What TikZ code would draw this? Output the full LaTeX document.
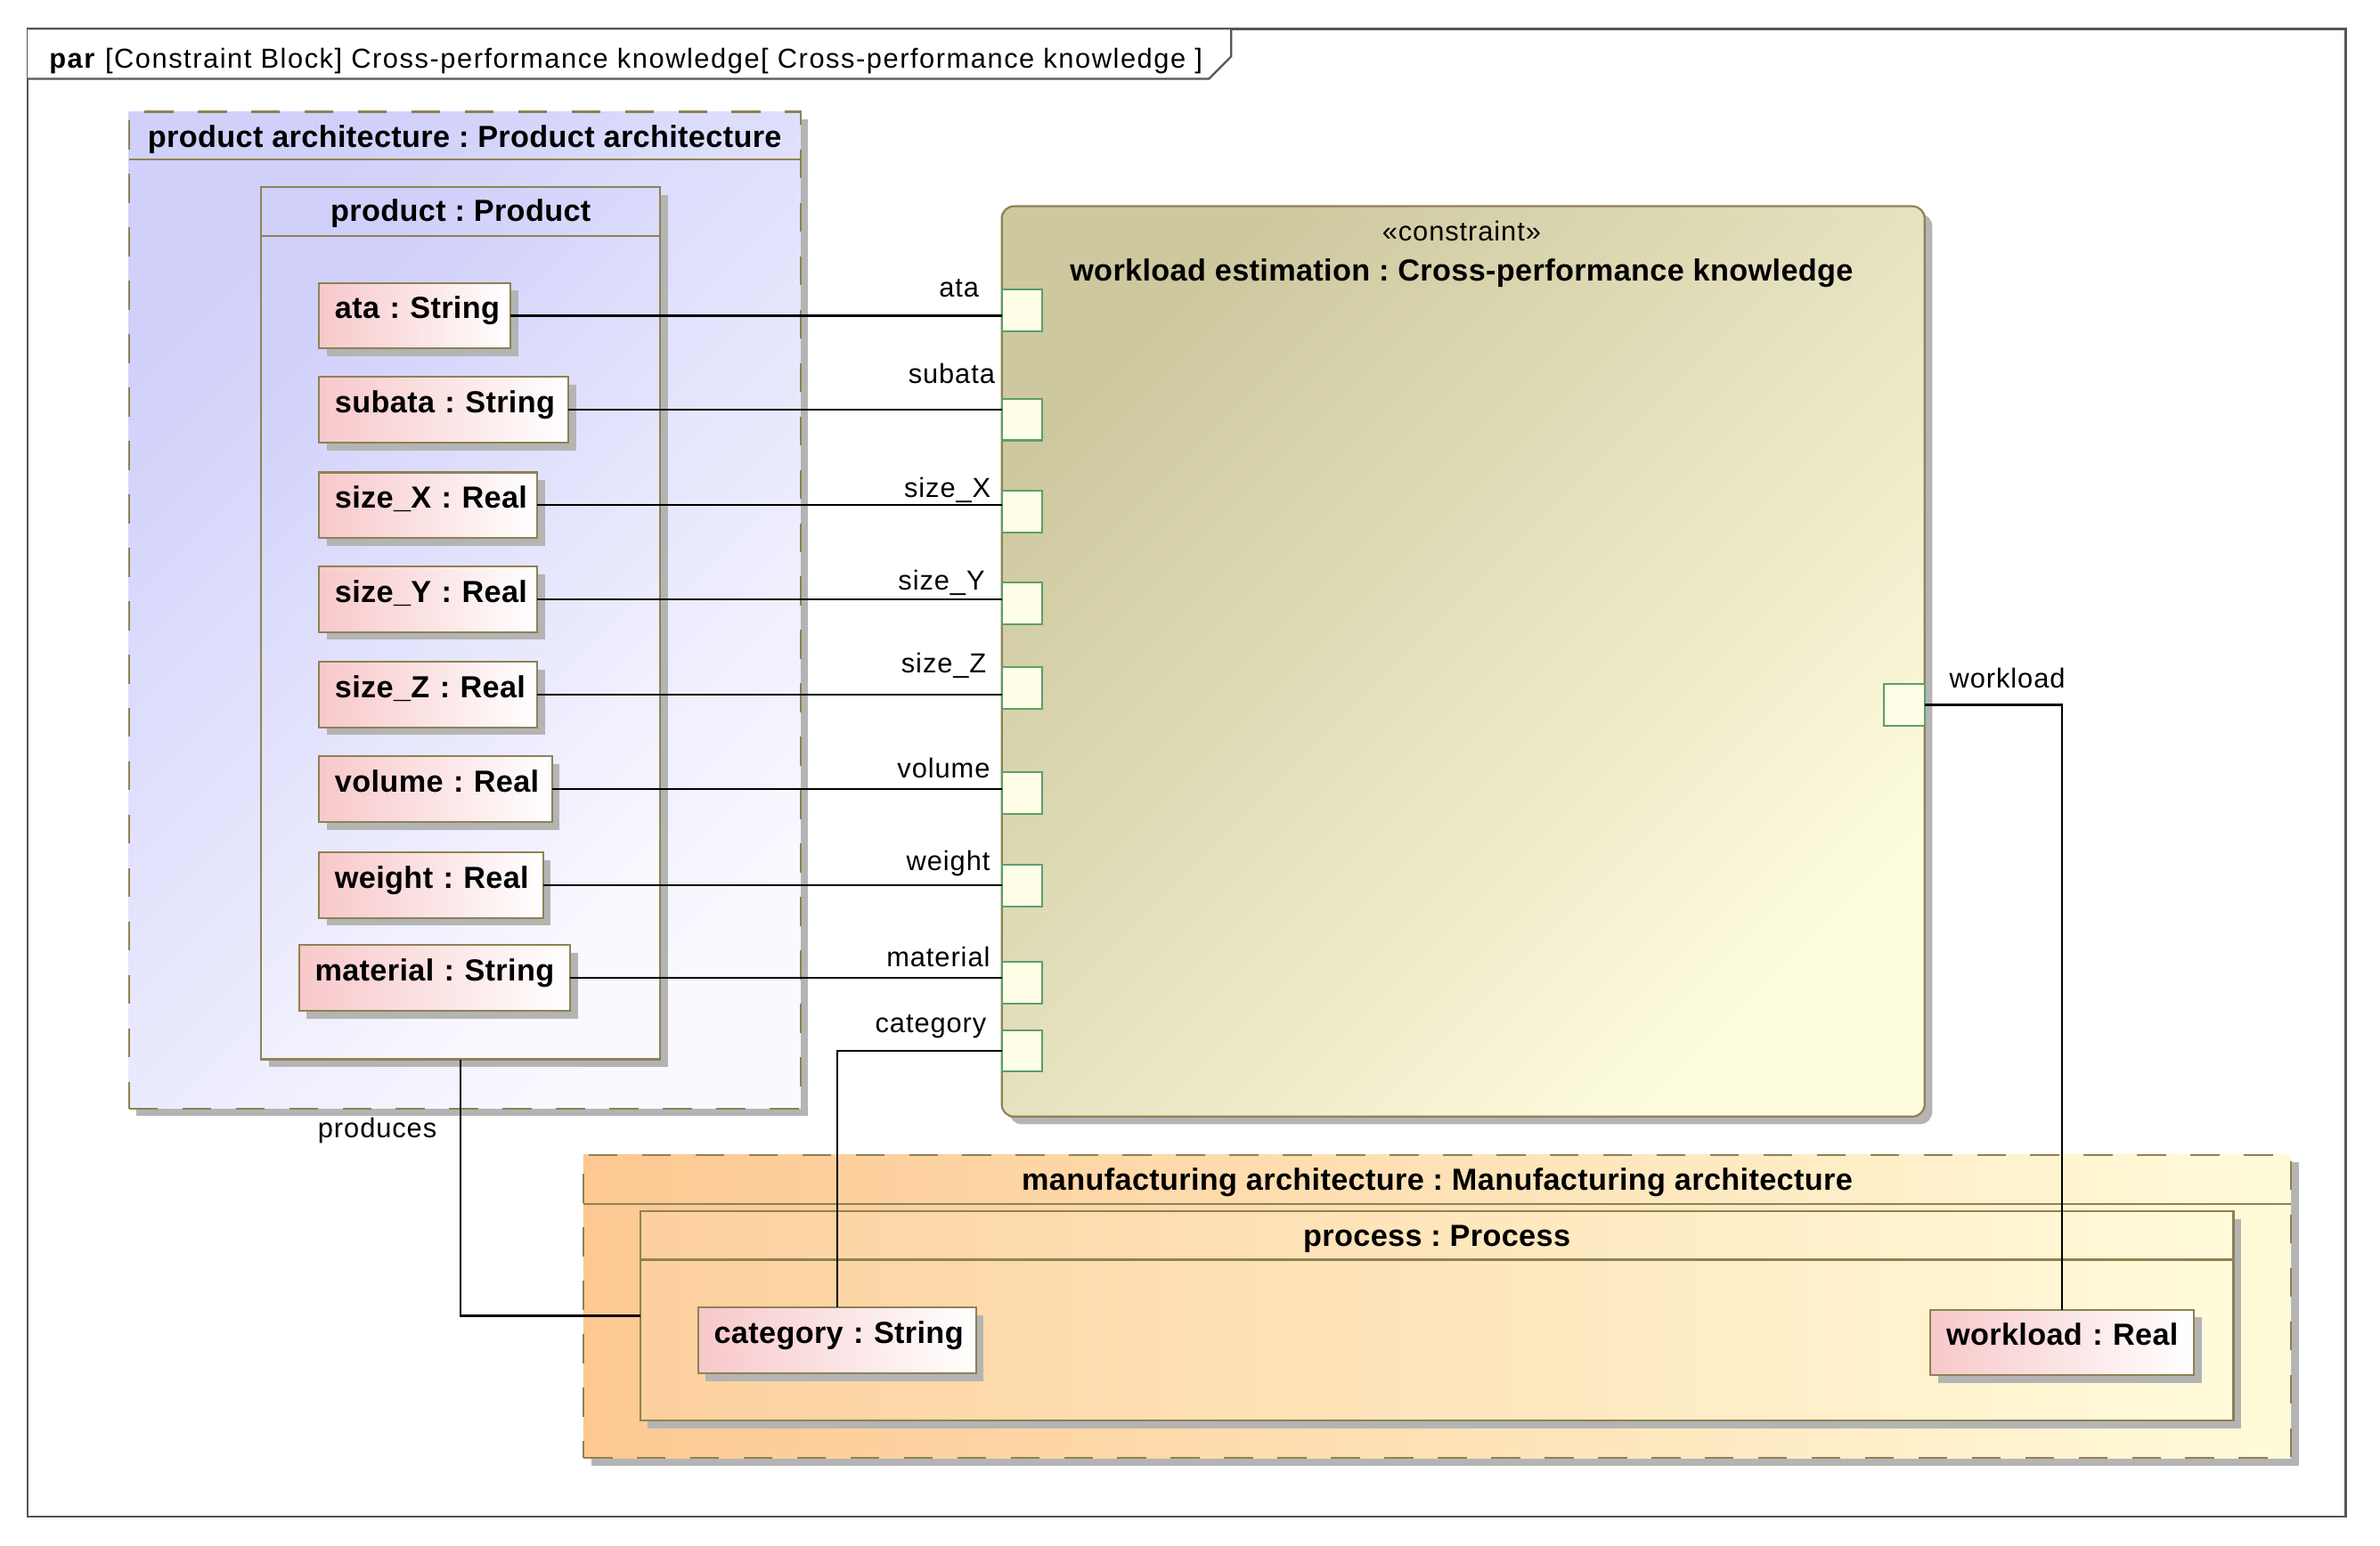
\documentclass[tikz,border=0pt]{standalone}
\usepackage{fontspec}
\setmainfont{Liberation Sans}[LetterSpace=3]
\newfontfamily\boldfam{Liberation Sans}[LetterSpace=1]
\usetikzlibrary{shadows}
\definecolor{bord}{HTML}{8E8253}
\definecolor{lav1}{HTML}{D0D0FB}
\definecolor{lav2}{HTML}{F9F9FF}
\definecolor{pinkL}{HTML}{F8C8CA}
\definecolor{khaki1}{HTML}{CDC89E}
\definecolor{khaki2}{HTML}{FEFCDF}
\definecolor{portfill}{HTML}{FFFEE6}
\definecolor{portdraw}{HTML}{5E9E6A}
\definecolor{orange1}{HTML}{FDC892}
\definecolor{orange1b}{HTML}{FDD09E}
\definecolor{orange2}{HTML}{FFFBDA}
\definecolor{shadowgray}{HTML}{B4B4B4}
\definecolor{framegray}{HTML}{555555}
\newcommand\boldlbl{\boldfam\bfseries\fontsize{20pt}{24pt}\selectfont}
\newcommand\reglbl{\fontsize{18pt}{21pt}\selectfont}
\newcommand\propbox[5]{\node[prop, text width=#4pt] (#1) at (#2,#3) {\mbox{#5}};}
\begin{document}
\frenchspacing
\begin{tikzpicture}[x=1pt,y=-1pt,
  every node/.style={inner sep=0pt, outer sep=0pt},
  shad/.style={drop shadow={shadow xshift=5pt, shadow yshift=-5pt, fill=shadowgray, opacity=1}},
  container/.style={draw=bord, line width=1.3pt, dash pattern=on 19pt off 16pt, anchor=north west, shad},
  part/.style={draw=bord, line width=1.3pt, anchor=north west, shad},
  hdrline/.style={draw=bord, line width=1.3pt},
  prop/.style={draw=bord, line width=1.2pt, left color=pinkL, right color=white, anchor=north west,
    minimum height=43pt, inner xsep=10.5pt, inner ysep=0pt, text height=13.5pt, text depth=9.5pt,
    align=left, font=\boldlbl, shad},
  port/.style={draw=portdraw, fill=portfill, line width=1.2pt, minimum width=26.4pt, minimum height=27.3pt, anchor=north west},
  conn/.style={draw=black, line width=1.3pt},
  plabel/.style={font=\reglbl, anchor=base east},
  ttl/.style={font=\boldlbl, anchor=base}]
\useasboundingbox (0,0) rectangle (1560,1013);

% frame
\node[draw=framegray, line width=1.5pt, minimum width=1519.3pt, minimum height=975.3pt, anchor=north west] (frame) at (18.2,18.9) {};
\draw[draw=framegray, line width=1.3pt, fill=white] (18.2,18.9) -- (807,18.9) -- (807,37) -- (792.5,51.6) -- (18.2,51.6);
\node[anchor=base west, font=\reglbl\addfontfeatures{LetterSpace=5}] (hdr) at (32.3,44.4) {\textbf{par} [Constraint Block] Cross-performance knowledge[ Cross-performance knowledge ]};

% product architecture
\node[container, top color=lav1, bottom color=lav2, shading angle=45, minimum width=440.3pt, minimum height=653.5pt] (parch) at (84.5,73.2) {};
\draw[hdrline] ([yshift=-31.4pt]parch.north west) -- ([yshift=-31.4pt]parch.north east);
\node[ttl] (tparch) at (304.6,96.8) {product architecture : Product architecture};

\node[part, top color=lav1, bottom color=lav2, shading angle=45, minimum width=261.5pt, minimum height=571.7pt] (product) at (171.2,122.8) {};
\draw[hdrline] ([yshift=-31.9pt]product.north west) -- ([yshift=-31.9pt]product.north east);
\node[ttl] (tproduct) at (302,145) {product : Product};

% manufacturing architecture
\node[container, left color=orange1, right color=orange2, minimum width=1119.3pt, minimum height=198.8pt] (march) at (382.4,757.1) {};
\draw[hdrline] ([yshift=-32.1pt]march.north west) -- ([yshift=-32.1pt]march.north east);
\node[ttl] (tmarch) at (942,780.5) {manufacturing architecture : Manufacturing architecture};

\node[part, left color=orange1b, right color=orange2, minimum width=1044.4pt, minimum height=137.2pt] (process) at (419.6,794) {};
\draw[hdrline] ([yshift=-31.8pt]process.north west) -- ([yshift=-31.8pt]process.north east);
\node[ttl] (tprocess) at (941.8,817.3) {process : Process};

% constraint block
\node[draw=bord, line width=1.3pt, rounded corners=8pt, top color=khaki1, bottom color=khaki2, shading angle=45,
  anchor=north west, minimum width=604.9pt, minimum height=596.8pt, shad] (cons) at (656.6,135.2) {};
\node[font=\reglbl, anchor=base] (stereo) at (958,158.2) {«constraint»};
\node[ttl] (ctitle) at (958,183.9) {workload estimation : Cross-performance knowledge};

% value properties
\propbox{ata}{209}{185.4}{104.6}{ata : String}
\propbox{subata}{209}{247.2}{142.5}{subata : String}
\propbox{sizex}{209}{309.7}{122.3}{size\_X : Real}
\propbox{sizey}{209}{371.3}{122.3}{size\_Y : Real}
\propbox{sizez}{209}{433.8}{122.3}{size\_Z : Real}
\propbox{volume}{209}{495.9}{131.9}{volume : Real}
\propbox{weight}{209}{558.8}{126}{weight : Real}
\propbox{material}{195.9}{619.7}{156.9}{material : String}
\propbox{category}{457.5}{857.3}{161.3}{category : String}
\propbox{workload}{1265.2}{858.6}{151.8}{workload : Real}

% ports
\node[port] (pata) at (656.6,190) {};
\node[port] (psubata) at (656.6,261.4) {};
\node[port] (psizex) at (656.6,321.7) {};
\node[port] (psizey) at (656.6,382) {};
\node[port] (psizez) at (656.6,437.5) {};
\node[port] (pvolume) at (656.6,506.3) {};
\node[port] (pweight) at (656.6,567) {};
\node[port] (pmaterial) at (656.6,630.6) {};
\node[port] (pcategory) at (656.6,675.3) {};
\node[port] (pworkload) at (1235,448.4) {};

% connectors
\draw[conn] (ata.east) -- (ata.east -| pata.west);
\draw[conn] (subata.east) -- (subata.east -| psubata.west);
\draw[conn] (sizex.east) -- (sizex.east -| psizex.west);
\draw[conn] (sizey.east) -- (sizey.east -| psizey.west);
\draw[conn] (sizez.east) -- (sizez.east -| psizez.west);
\draw[conn] (volume.east) -- (volume.east -| pvolume.west);
\draw[conn] (weight.east) -- (weight.east -| pweight.west);
\draw[conn] (material.east) -- (material.east -| pmaterial.west);
\draw[conn] (pcategory.west) -| (category.north);
\draw[conn] (pworkload.east) -| (workload.north);
\draw[conn] (product.south) |- (process.west);

% port labels
\node[plabel] (lata) at (641.6,194.6) {ata};
\node[plabel] (lsubata) at (652.1,251.3) {subata};
\node[plabel] (lsizex) at (649.4,326.2) {size\_X};
\node[plabel] (lsizey) at (645.5,386.5) {size\_Y};
\node[plabel] (lsizez) at (646.5,441) {size\_Z};
\node[plabel] (lvolume) at (648.9,510) {volume};
\node[plabel] (lweight) at (648.9,570.5) {weight};
\node[plabel] (lmaterial) at (648.9,634) {material};
\node[plabel] (lcategory) at (646.5,676.7) {category};
\node[font=\reglbl, anchor=base west] (lworkload) at (1277.8,451) {workload};
\node[font=\reglbl, anchor=base west] (lproduces) at (208.4,746) {produces};
\end{tikzpicture}
\end{document}
